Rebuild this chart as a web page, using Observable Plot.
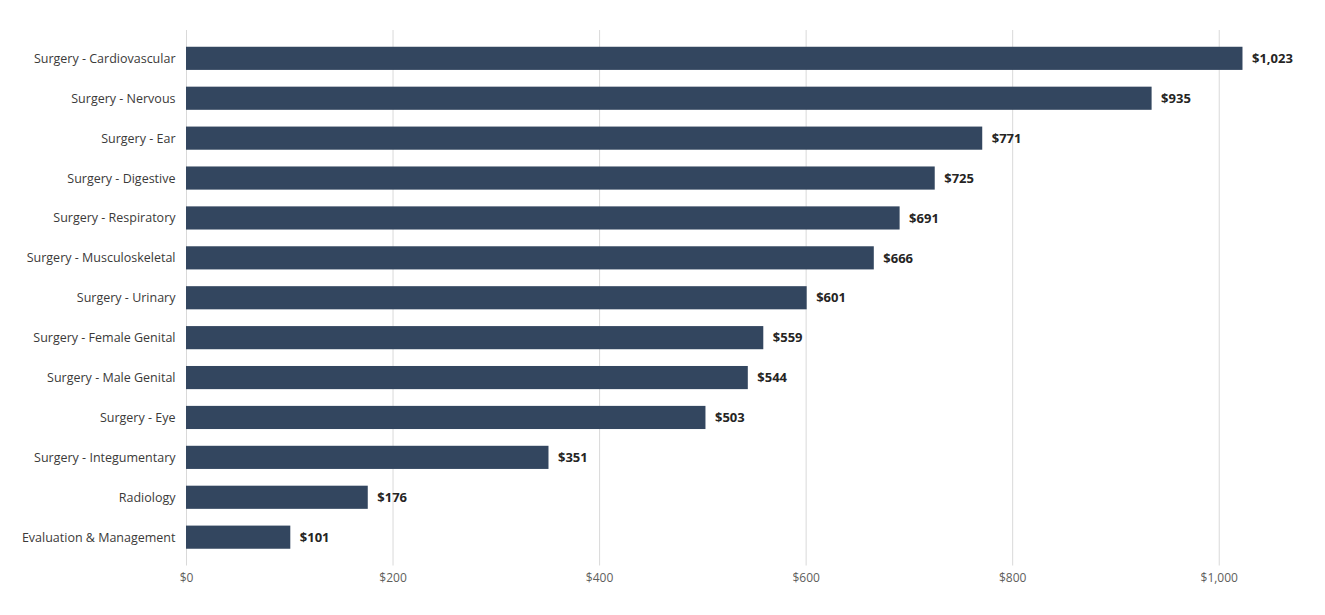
<!DOCTYPE html>
<html>
<head>
<meta charset="utf-8">
<script src="https://cdn.jsdelivr.net/npm/d3@7"></script>
<script src="https://cdn.jsdelivr.net/npm/@observablehq/plot@0.6"></script>
<style>
  html, body { margin: 0; padding: 0; background: #ffffff; }
  #chart { width: 1325px; height: 615px; }
  svg { font-family: "Open Sans", "Noto Sans", sans-serif; }
</style>
</head>
<body>
<div id="chart"></div>
<script>
const categories = [
  "Surgery - Cardiovascular",
  "Surgery - Nervous",
  "Surgery - Ear",
  "Surgery - Digestive",
  "Surgery - Respiratory",
  "Surgery - Musculoskeletal",
  "Surgery - Urinary",
  "Surgery - Female Genital",
  "Surgery - Male Genital",
  "Surgery - Eye",
  "Surgery - Integumentary",
  "Radiology",
  "Evaluation & Management"
];
const values = [1023, 935, 771, 725, 691, 666, 601, 559, 544, 503, 351, 176, 101];
const xTicks = [0, 200, 400, 600, 800, 1000];

const data = categories.map((c, i) => ({category: c, value: values[i]}));
const fmt = d3.format("$,.0f");

const chart = Plot.plot({
  width: 1325,
  height: 615,
  marginLeft: 186,
  marginRight: 3,
  marginTop: 30,
  marginBottom: 49.5,
  style: {fontFamily: "'Open Sans', 'Noto Sans', sans-serif", fontSize: "12px", background: "#ffffff"},
  x: {domain: [0, 1100], ticks: xTicks, tickFormat: fmt, label: null, grid: false},
  y: {domain: categories, padding: 0.42, round: false, label: null},
  marks: [
    Plot.gridX(xTicks, {stroke: "#d9d9d9", strokeOpacity: 1, strokeWidth: 1}),
    Plot.barX(data, {x: "value", y: "category", fill: "#33465f"}),
    Plot.text(data, {x: "value", y: "category", text: d => fmt(d.value), textAnchor: "start", dx: 9, fontWeight: "bold", fontSize: 13, fill: "#252423"}),
    Plot.axisX(xTicks, {tickSize: 0, tickPadding: 7, tickFormat: fmt, fill: "#605e5c", fontSize: 12, label: null}),
    Plot.axisY({tickSize: 0, tickPadding: 11, fill: "#3b3a39", fontSize: 12.5, label: null})
  ]
});
document.getElementById("chart").appendChild(chart);
</script>
</body>
</html>
